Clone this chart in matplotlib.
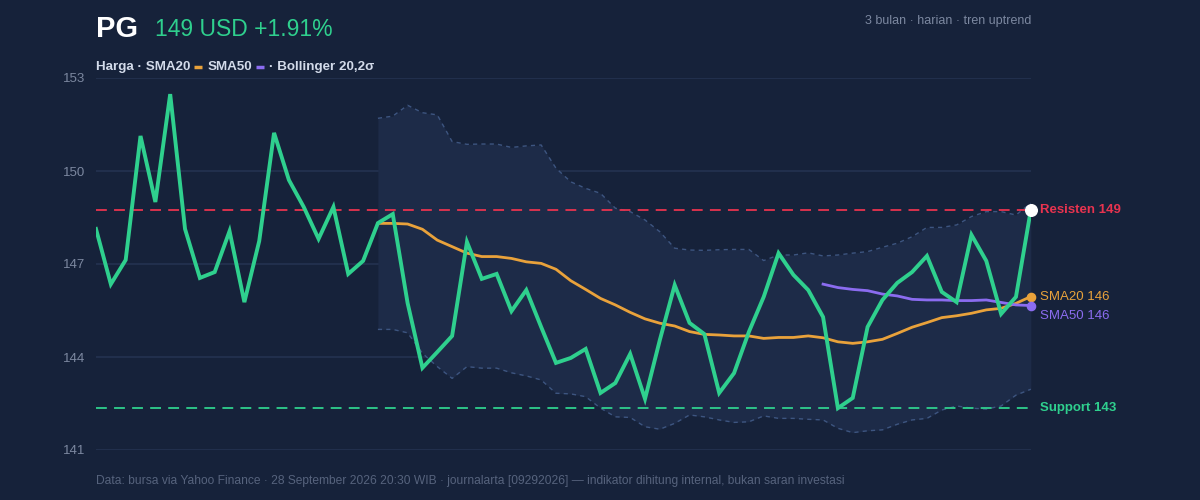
import matplotlib
matplotlib.use("Agg")
import matplotlib.pyplot as plt
from matplotlib.lines import Line2D
import numpy as np

plt.rcParams['font.family'] = ['Liberation Sans', 'DejaVu Sans']

# harga penutupan harian PG (64 hari)
harga = [
    148.13, 146.35, 147.13, 151.13, 149.00, 152.48, 148.13, 146.55,
    146.74, 148.06, 145.77, 147.74, 151.23, 149.71, 148.84, 147.81,
    148.84, 146.68, 147.10, 148.32, 148.61, 145.74, 143.65, 144.16,
    144.68, 147.71, 146.52, 146.68, 145.48, 146.16, 144.97, 143.81,
    143.97, 144.26, 142.84, 143.16, 144.10, 142.65, 144.55, 146.32,
    145.10, 144.74, 142.84, 143.48, 144.81, 145.94, 147.35, 146.65,
    146.16, 145.29, 142.35, 142.68, 144.97, 145.84, 146.39, 146.74,
    147.26, 146.10, 145.77, 147.94, 147.10, 145.39, 145.94, 148.74,
]

# indikator mulai hari ke-20 (SMA20, Bollinger) dan hari ke-50 (SMA50)
sma20 = [
    148.31, 148.31, 148.29, 148.12, 147.77, 147.56, 147.35, 147.24,
    147.24, 147.18, 147.07, 147.02, 146.83, 146.46, 146.18, 145.89,
    145.68, 145.44, 145.23, 145.09, 145.00, 144.82, 144.73, 144.71,
    144.68, 144.68, 144.60, 144.63, 144.63, 144.68, 144.62, 144.49,
    144.44, 144.49, 144.57, 144.76, 144.96, 145.11, 145.27, 145.33,
    145.41, 145.52, 145.57, 145.73, 145.95,
]
bb_atas = [
    151.70, 151.77, 152.12, 151.88, 151.81, 150.95, 150.86, 150.87,
    150.87, 150.76, 150.81, 150.84, 150.09, 149.65, 149.44, 149.28,
    148.80, 148.69, 148.42, 148.04, 147.51, 147.45, 147.44, 147.46,
    147.47, 147.47, 147.11, 147.29, 147.29, 147.36, 147.26, 147.29,
    147.35, 147.40, 147.54, 147.67, 147.88, 148.18, 148.18, 148.26,
    148.53, 148.69, 148.69, 148.58, 148.96,
]
bb_bawah = [
    144.89, 144.89, 144.78, 144.12, 143.69, 143.31, 143.69, 143.64,
    143.64, 143.49, 143.39, 143.26, 142.83, 142.81, 142.72, 142.35,
    142.07, 142.05, 141.75, 141.67, 141.86, 142.13, 142.07, 141.97,
    141.89, 141.91, 142.10, 142.02, 142.02, 141.99, 141.97, 141.70,
    141.56, 141.62, 141.65, 141.83, 141.97, 142.02, 142.29, 142.42,
    142.35, 142.32, 142.42, 142.77, 142.96,
]
sma50 = [
    146.35, 146.24, 146.18, 146.14, 146.03, 145.97, 145.86, 145.84,
    145.84, 145.82, 145.82, 145.84, 145.76, 145.68, 145.66,
]
resisten = 148.74
support = 142.37
y_ticks = [141, 144, 147, 150, 153]
label_kanan = ['Resisten 149', 'Support 143', 'SMA20 146', 'SMA50 146']

BG = '#16223a'
GREEN = '#2fd08e'
ORANGE = '#e9a23b'
PURPLE = '#8b6cf0'
RED = '#e8334f'
GRAY = '#7c88a0'
LIGHT = '#d3dbea'

x = np.arange(len(harga))
x20 = x[len(harga) - len(sma20):]
x50 = x[len(harga) - len(sma50):]

fig = plt.figure(figsize=(12, 5), dpi=100, facecolor=BG)
ax = fig.add_axes([0.08, 0.10, 0.779, 0.744])
ax.set_facecolor(BG)
for s in ax.spines.values():
    s.set_visible(False)

ax.set_xlim(0, len(harga) - 1)
ax.set_ylim(141, 153)
ax.set_yticks(y_ticks)
ax.set_yticklabels([str(t) for t in y_ticks])
ax.tick_params(axis='y', length=0, pad=8, labelsize=9.5, labelcolor=GRAY)
ax.set_xticks([])
ax.grid(True, axis='y', color='#243250', linewidth=1.2)
ax.set_axisbelow(True)

# pita Bollinger
ax.fill_between(x20, bb_bawah, bb_atas, color='#1d2b48', linewidth=0, zorder=1)
ax.plot(x20, bb_atas, color='#3d5580', linewidth=1, linestyle=(0, (3, 3)), zorder=2)
ax.plot(x20, bb_bawah, color='#3d5580', linewidth=1, linestyle=(0, (3, 3)), zorder=2)

# support / resisten
ax.axhline(resisten, color=RED, linewidth=1.3, linestyle=(0, (6, 4)), zorder=2)
ax.axhline(support, color=GREEN, linewidth=1.3, linestyle=(0, (6, 4)), zorder=2)

ax.plot(x20, sma20, color=ORANGE, linewidth=2, zorder=3)
ax.plot(x50, sma50, color=PURPLE, linewidth=2, zorder=3)
ax.plot(x, harga, color=GREEN, linewidth=2.8, zorder=4, solid_joinstyle='miter')

ax.scatter([x[-1]], [harga[-1]], s=70, color='white', zorder=6, clip_on=False)
ax.scatter([x20[-1]], [sma20[-1]], s=35, color=ORANGE, zorder=5, clip_on=False)
ax.scatter([x50[-1]], [sma50[-1]], s=35, color=PURPLE, zorder=5, clip_on=False)

# label kanan
tr = ax.get_yaxis_transform()
ax.text(1.01, resisten, label_kanan[0], transform=tr, color=RED,
        fontsize=9.5, fontweight='bold', va='center')
ax.text(1.01, support, label_kanan[1], transform=tr, color=GREEN,
        fontsize=9.5, fontweight='bold', va='center')
ax.text(1.01, sma20[-1], label_kanan[2], transform=tr, color=ORANGE,
        fontsize=9.5, va='center')
ax.text(1.01, sma50[-1] - 0.35, label_kanan[3], transform=tr, color=PURPLE,
        fontsize=9.5, va='center')

# judul
fig.text(96 / 1200, 1 - 29 / 500, 'PG', color='white', fontsize=21, fontweight='bold', va='center')
fig.text(155 / 1200, 1 - 30 / 500, '149 USD +1.91%', color=GREEN, fontsize=16.5, va='center')
fig.text(1031 / 1200, 1 - 21 / 500, '3 bulan · harian · tren uptrend', color=GRAY,
         fontsize=9, ha='right', va='center')

# legenda: teks tebal dengan garis pendek berwarna
renderer = fig.canvas.get_renderer()
ly = 1 - 67 / 500
px = 96
for item in ['Harga · SMA20', ORANGE, 'SMA50', PURPLE, '· Bollinger 20,2σ']:
    if item.startswith('#'):
        px += 4
        fig.add_artist(Line2D([px / 1200, (px + 8) / 1200], [ly, ly], color=item,
                              linewidth=2.5, solid_capstyle='butt',
                              transform=fig.transFigure))
        px += 8 + 5
    else:
        t = fig.text(px / 1200, ly, item, color=LIGHT, fontsize=9.6,
                     fontweight='bold', va='center')
        px = t.get_window_extent(renderer).x1

fig.text(96 / 1200, 1 - 481 / 500,
         'Data: bursa via Yahoo Finance · 28 September 2026 20:30 WIB · journalarta [09292026]'
         ' — indikator dihitung internal, bukan saran investasi',
         color='#56637d', fontsize=8.65, va='center')

fig.savefig('out.png', dpi=100, facecolor=BG)
